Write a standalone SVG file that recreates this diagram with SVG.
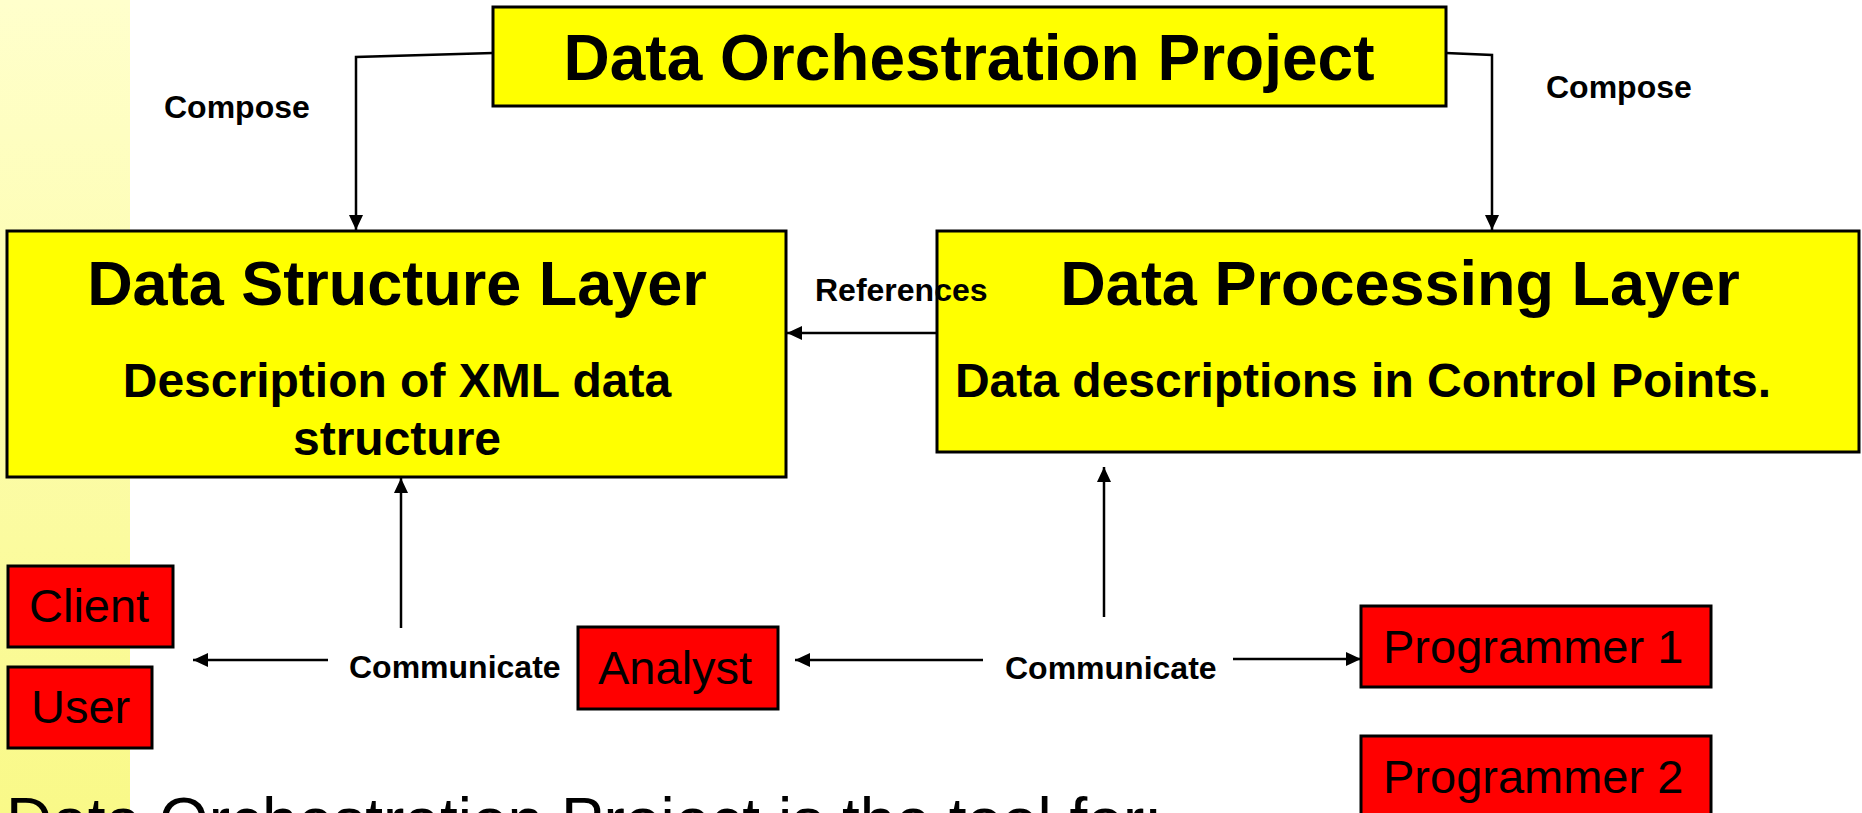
<svg xmlns="http://www.w3.org/2000/svg" width="1862" height="813" viewBox="0 0 1862 813">
<defs>
<linearGradient id="strip" x1="0" y1="0" x2="0" y2="1">
<stop offset="0" stop-color="#FFFFCC"/>
<stop offset="1" stop-color="#F9F988"/>
</linearGradient>
<marker id="arr" markerUnits="userSpaceOnUse" markerWidth="16" markerHeight="16" refX="15" refY="7" orient="auto">
<path d="M0,0 L15,7 L0,14 z" fill="#000"/>
</marker>
<style>
text{font-family:"Liberation Sans",Arial,sans-serif;fill:#000}
.yb{fill:#FFFF00;stroke:#000;stroke-width:3}
.rb{fill:#FF0000;stroke:#000;stroke-width:3}
.t1{font-size:63px;font-weight:bold;text-anchor:middle}
.t2{font-size:48px;font-weight:bold;text-anchor:middle}
.rt{font-size:47px}
.lbl{font-size:32px;font-weight:bold}
.ln{fill:none;stroke:#000;stroke-width:2.5;marker-end:url(#arr)}
</style>
</defs>
<rect x="0" y="0" width="1862" height="813" fill="#fff"/>
<rect x="0" y="0" width="130" height="813" fill="url(#strip)"/>
<g id="top">
<rect class="yb" x="493" y="7" width="953" height="99"/>
<text class="t1" x="969" y="80" style="font-size:64px">Data Orchestration Project</text>
</g>
<g id="dsl">
<rect class="yb" x="7" y="231" width="779" height="246"/>
<text class="t1" x="397" y="305">Data Structure Layer</text>
<text class="t2" x="397" y="397">Description of XML data</text>
<text class="t2" x="397" y="455">structure</text>
</g>
<g id="dpl">
<rect class="yb" x="937" y="231" width="922" height="221"/>
<text class="t1" x="1400" y="305">Data Processing Layer</text>
<text class="t2" x="1363" y="397">Data descriptions in Control Points.</text>
</g>
<g id="client">
<rect class="rb" x="8" y="566" width="165" height="81"/>
<text class="rt" x="29" y="622">Client</text>
</g>
<g id="user">
<rect class="rb" x="8" y="667" width="144" height="81"/>
<text class="rt" x="31" y="723">User</text>
</g>
<g id="analyst">
<rect class="rb" x="578" y="627" width="200" height="82"/>
<text class="rt" x="598" y="684">Analyst</text>
</g>
<g id="programmer1">
<rect class="rb" x="1361" y="606" width="350" height="81"/>
<text class="rt" x="1383" y="663">Programmer 1</text>
</g>
<g id="programmer2">
<rect class="rb" x="1361" y="736" width="350" height="90"/>
<text class="rt" x="1383" y="793">Programmer 2</text>
</g>
<g id="connectors">
<polyline class="ln" points="493,53 356,57 356,230"/>
<polyline class="ln" points="1446,53 1492,55 1492,230"/>
<line class="ln" x1="937" y1="333" x2="787" y2="333"/>
<line class="ln" x1="401" y1="628" x2="401" y2="478"/>
<line class="ln" x1="1104" y1="617" x2="1104" y2="467"/>
<line class="ln" x1="328" y1="660" x2="193" y2="660"/>
<line class="ln" x1="983" y1="660" x2="795" y2="660"/>
<line class="ln" x1="1233" y1="659" x2="1361" y2="659"/>
<text class="lbl" x="164" y="118">Compose</text>
<text class="lbl" x="1546" y="98">Compose</text>
<text class="lbl" x="815" y="301">References</text>
<text class="lbl" x="349" y="678">Communicate</text>
<text class="lbl" x="1005" y="679">Communicate</text>
</g>
<text x="6" y="843" style="font-size:64px">Data Orchestration Project is the tool for:</text>
</svg>
